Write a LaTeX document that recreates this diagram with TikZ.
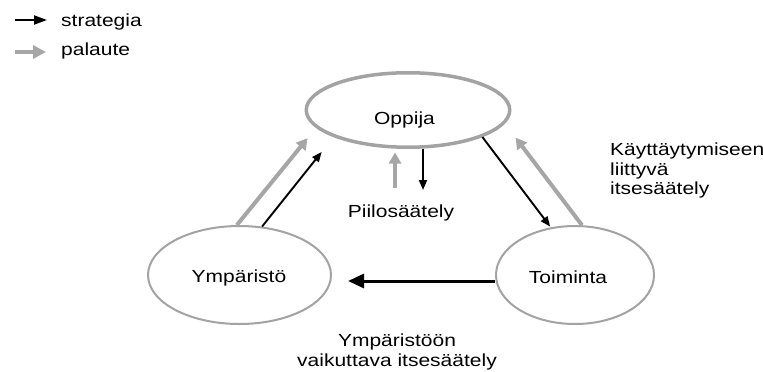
\documentclass[tikz,border=0pt]{standalone}
\usepackage{fontspec}
\setmainfont{Liberation Sans}[FakeStretch=1.2]
\usetikzlibrary{arrows.meta,shapes.geometric}
\definecolor{rimgray}{HTML}{A3A3A3}
\definecolor{fbgray}{HTML}{A6A6A6}

\begin{document}
\begin{tikzpicture}[x=1pt,y=-1pt,
  every node/.style={font=\fontsize{17.5}{19.5}\selectfont},
  stage/.style={ellipse, draw=rimgray, line width=2pt, inner sep=0pt},
  caption/.style={inner sep=0pt, text=black},
  strat/.style={-{Triangle[length=10pt,width=8pt]}, line width=1.9pt, black},
  fb/.style={-{Triangle[length=11pt,width=12pt]}, line width=4pt, fbgray}]

  % page area
  \fill[white] (0,0) rectangle (763,372);
  \useasboundingbox (0,0) rectangle (763,372);

  % legend
  \draw[strat, -{Triangle[length=13pt,width=9pt]}] (15,20) -- (47,20);
  \node[caption, anchor=base west] (lstrat) at (61,27) {strategia};
  \draw[fb, line width=3.5pt, -{Triangle[length=13pt,width=13pt]}] (15,52) -- (46,52);
  \node[caption, anchor=base west] (lpal) at (61,55) {palaute};

  % the three stages
  \node[stage, line width=3.5pt, minimum width=203.5pt, minimum height=74.5pt] (oppija) at (408,110) {};
  \node[stage, minimum width=158pt, minimum height=98pt] (toim) at (575,275) {};
  \node[stage, minimum width=183pt, minimum height=98pt] (ymp) at (239.5,275) {};

  \node[caption, anchor=base] (toppija) at (404.5,124) {Oppija};
  \node[caption, anchor=base] (ttoim) at (568,283) {Toiminta};
  \node[caption, anchor=base] (tymp) at (239,282) {Ympäristö};

  % labels (base anchor sits on the last line)
  \node[caption, anchor=base] (piilo) at (401,217) {Piilosäätely};
  \node[caption, anchor=base west, align=left] (kay) at (610,194.5)
    {Käyttäytymiseen\\liittyvä\\itsesäätely};
  \node[caption, anchor=base, align=center] (yvi) at (397,366)
    {Ympäristöön\\vaikuttava itsesäätely};

  % environment <-> learner
  \draw[fb, shorten >=13.4pt] (ymp.93) -- (oppija.191);
  \draw[strat, shorten >=19pt] (ymp.65) -- (oppija.200);

  % learner <-> action
  \draw[strat, shorten >=1pt] (oppija.340) -- (toim.117);
  \draw[fb, shorten >=17.6pt] (toim.82) -- (oppija.352);

  % covert regulation
  \coordinate (pgs) at (395,188);
  \coordinate (pbe) at (423,190);
  \draw[fb, shorten >=3.5pt] (pgs) -- (pgs |- oppija.south);
  \draw[strat] (oppija.south -| pbe) -- (pbe);

  % action -> environment
  \draw[strat, line width=3pt, -{Triangle[length=16pt,width=14pt]}, shorten >=16pt]
    ([yshift=-6pt]toim.west) -- ([yshift=-6pt]ymp.east);
\end{tikzpicture}
\end{document}
